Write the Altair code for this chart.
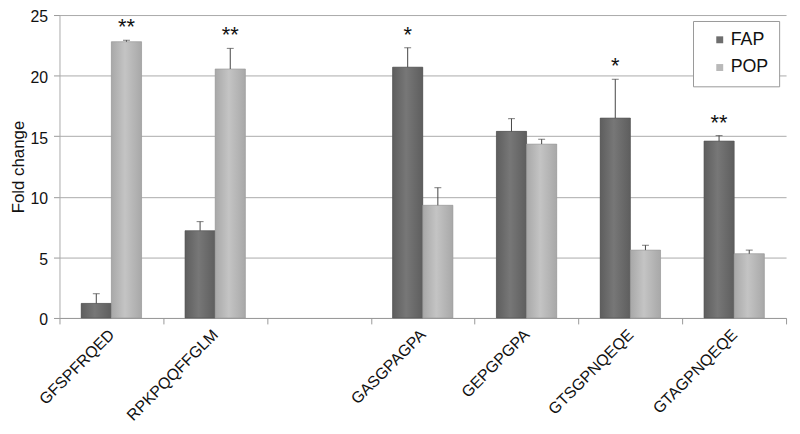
import altair as alt
import pandas as pd

# ---- data ----
domain = ["GFSPFRQED", "RPKPQQFFGLM", " ", "GASGPAGPA", "GEPGPGPA", "GTSGPNQEQE", "GTAGPNQEQE"]
peptides = ["GFSPFRQED", "RPKPQQFFGLM", "GASGPAGPA", "GEPGPGPA", "GTSGPNQEQE", "GTAGPNQEQE"]
enzymes = ["FAP", "POP"]
fap = [1.2, 7.2, 20.7, 15.4, 16.5, 14.6]
fap_err = [0.8, 0.75, 1.6, 1.05, 3.2, 0.45]
pop = [22.8, 20.55, 9.3, 14.35, 5.6, 5.3]
pop_err = [0.12, 1.7, 1.45, 0.4, 0.4, 0.3]
sig_fap = ["", "", "*", "", "*", "**"]
sig_pop = ["**", "**", "", "", "", ""]
y_ticks = [0, 5, 10, 15, 20, 25]

rows = []
for i, p in enumerate(peptides):
    rows.append(dict(peptide=p, enzyme="FAP", value=fap[i], err=fap_err[i], sig=sig_fap[i]))
    rows.append(dict(peptide=p, enzyme="POP", value=pop[i], err=pop_err[i], sig=sig_pop[i]))
df = pd.DataFrame(rows)
df["top"] = df["value"] + df["err"]

FONT = "Liberation Sans"

x = alt.X(
    "peptide:N",
    sort=domain,
    scale=alt.Scale(domain=domain, paddingInner=0, paddingOuter=0),
    axis=alt.Axis(
        title=None, labelAngle=-45, labelAlign="right", labelBaseline="middle",
        labelFontSize=16, labelFont=FONT, labelColor="#111", labelPadding=8,
        tickBand="extent", tickSize=6, tickColor="#999", domainColor="#999",
        grid=False, labelLimit=300,
    ),
)
xo = alt.XOffset(
    "enzyme:N",
    scale=alt.Scale(domain=enzymes, paddingInner=0, paddingOuter=0.72),
)
yscale = alt.Scale(domain=[0, 25], nice=False)


def grad(edge, mid):
    return alt.LinearGradient(
        gradient="linear", x1=0, x2=1, y1=0, y2=0,
        stops=[alt.GradientStop(offset=0, color=edge),
               alt.GradientStop(offset=0.45, color=mid),
               alt.GradientStop(offset=1, color=edge)],
    )


bars = alt.Chart(df).mark_bar().encode(
    x=x,
    xOffset=xo,
    y=alt.Y(
        "value:Q",
        scale=yscale,
        axis=alt.Axis(
            values=y_ticks, title="Fold change", titleFont=FONT, titleFontSize=17,
            titleFontWeight="normal", titleColor="#111", titlePadding=3,
            labelFont=FONT, labelFontSize=16, labelColor="#111", labelPadding=6,
            labelOffset=2,
            tickSize=6, tickColor="#999", domainColor="#aaa",
            grid=True, gridColor="#aaaaaa", gridWidth=1,
        ),
    ),
    color=alt.Color(
        "enzyme:N",
        scale=alt.Scale(domain=enzymes, range=["#6e6e6e", "#b9b9b9"]),
        legend=alt.Legend(
            title=None, orient="none", legendX=640, legendY=6,
            symbolType="square", symbolSize=49, symbolStrokeWidth=0,
            symbolOffset=8, labelOffset=2,
            labelFont=FONT, labelFontSize=18, labelColor="#111",
            labelExpr="datum.label + '\u00a0\u00a0\u00a0\u00a0'",
            padding=10, rowPadding=10,
            fillColor="white", strokeColor="#999",
        ),
    ),
)

fap_bars = alt.Chart(df).transform_filter("datum.enzyme == 'FAP'").mark_bar(
    fill=grad("#5e5e5e", "#777777"), stroke="#555", strokeWidth=0.6
).encode(x=x, xOffset=xo, y=alt.Y("value:Q", scale=yscale))
pop_bars = alt.Chart(df).transform_filter("datum.enzyme == 'POP'").mark_bar(
    fill=grad("#a8a8a8", "#c4c4c4"), stroke="#9a9a9a", strokeWidth=0.6
).encode(x=x, xOffset=xo, y=alt.Y("value:Q", scale=yscale))

err_line = alt.Chart(df).mark_rule(color="#444", strokeWidth=1).encode(
    x=x, xOffset=xo, y=alt.Y("value:Q", scale=yscale), y2="top:Q"
)
err_cap = alt.Chart(df).mark_tick(color="#444", size=7, thickness=1, orient="horizontal").encode(
    x=x, xOffset=xo, y=alt.Y("top:Q", scale=yscale)
)
stars = alt.Chart(df).mark_text(
    fontSize=22, font=FONT, color="#111", baseline="alphabetic", dy=-6
).encode(x=x, xOffset=xo, y=alt.Y("top:Q", scale=yscale), text="sig:N")

chart = alt.layer(bars, fap_bars, pop_bars, err_line, err_cap, stars).properties(
    width=734, height=306,
    autosize=alt.AutoSizeParams(type="none"),
    padding={"left": 52, "top": 5, "right": 6, "bottom": 105},
).configure_view(stroke=None)

chart.save("out.html", embed_options={"renderer": "svg", "actions": False})
